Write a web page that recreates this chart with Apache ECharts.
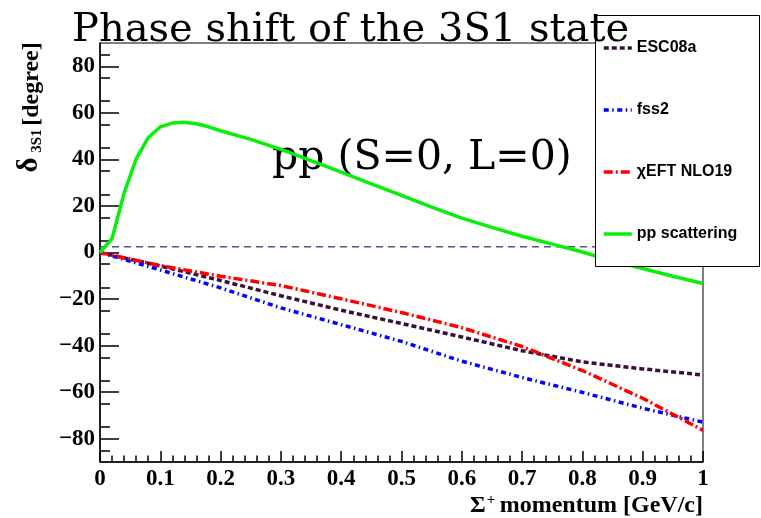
<!DOCTYPE html>
<html>
<head>
<meta charset="utf-8">
<script src="https://cdn.jsdelivr.net/npm/echarts@6/dist/echarts.min.js"></script>
<style>
  html, body { margin: 0; padding: 0; background: #fff; }
  #chart { width: 761px; height: 518px; }
</style>
</head>
<body>
<div id="chart"></div>
<script>
// Σ+ momentum grid shared by the three hyperon-nucleon models [GeV/c]
const modelMomentum = [0, 0.1, 0.2, 0.3, 0.4, 0.5, 0.6, 0.7, 0.8, 0.9, 1.0];
// 3S1 phase shifts [degree]
const esc08a = [0, -5.8, -12.0, -18.6, -24.8, -30.5, -36.3, -42.2, -47.0, -50.0, -52.6];
const fss2   = [0, -7.5, -15.2, -23.8, -31.0, -38.2, -46.7, -53.7, -60.1, -66.9, -72.9];
const nlo19  = [0, -5.6, -10.2, -14.2, -19.9, -25.8, -32.3, -40.4, -50.7, -62.6, -76.4];

// pp scattering reference curve
const ppMomentum = [0, 0.02, 0.04, 0.06, 0.08, 0.10, 0.12, 0.14, 0.16, 0.18, 0.20, 0.25, 0.30,
                    0.35, 0.40, 0.45, 0.50, 0.55, 0.60, 0.65, 0.70, 0.75, 0.80, 0.85, 0.90, 0.95, 1.00];
const ppPhase    = [0, 6.0, 25.5, 40.2, 49.3, 54.0, 55.6, 56.0, 55.3, 54.0, 52.3, 48.6, 44.3,
                    39.5, 34.5, 29.5, 24.5, 19.5, 14.8, 10.8, 7.0, 3.6, 0.2, -3.7, -6.9, -10.2, -13.3];

// horizontal guide line level [degree]
const guideLevel = 2.5;

// axis tick labels
const yLabelValues = [-80, -60, -40, -20, 0, 20, 40, 60, 80];

const seriesNames = ['ESC08a', 'fss2', '\u03C7EFT NLO19', 'pp scattering'];

const pairs = (xs, ys) => xs.map((x, i) => [x, ys[i]]);

const chart = echarts.init(document.getElementById('chart'), null, { renderer: 'canvas' });

// measure text so the x-axis title pieces sit side by side
const measureCtx = document.createElement('canvas').getContext('2d');
function textWidth(str, font) { measureCtx.font = font; return measureCtx.measureText(str).width; }

const serifBold = '"Liberation Serif", "Times New Roman", serif';
const xTitleFont = 'bold 24px ' + serifBold;
const xTitleMain = 'momentum [GeV/c]';
const xTitleRight = 703;
const xTitleMainLeft = xTitleRight - textWidth(xTitleMain, xTitleFont);
const plusLeft = xTitleMainLeft - 13;

const option = {
  animation: false,
  backgroundColor: '#fff',
  grid: {
    left: 100, right: 58, top: 43, bottom: 56,
    show: true, borderColor: '#000', borderWidth: 1, backgroundColor: 'transparent'
  },
  xAxis: {
    type: 'value', min: 0, max: 1, interval: 0.1,
    axisLine: { show: true, onZero: false, lineStyle: { color: '#000', width: 1.5 } },
    axisTick: { show: true, inside: true, length: 11, lineStyle: { color: '#000', width: 1.5 } },
    minorTick: { show: true, splitNumber: 5, length: 6.5, lineStyle: { color: '#000', width: 1.5 } },
    splitLine: { show: false },
    axisLabel: {
      margin: 6, color: '#000', fontFamily: serifBold, fontWeight: 'bold', fontSize: 23
    }
  },
  yAxis: {
    type: 'value', min: -90, max: 90, interval: 20,
    axisLine: { show: true, onZero: false, lineStyle: { color: '#000', width: 1.5 } },
    axisTick: { show: true, inside: true, length: 19, customValues: yLabelValues,
                lineStyle: { color: '#000', width: 1.5 } },
    minorTick: { show: true, splitNumber: 4, length: 10, lineStyle: { color: '#000', width: 1.5 } },
    splitLine: { show: false },
    axisLabel: {
      customValues: yLabelValues,
      margin: 5, color: '#000', fontFamily: serifBold, fontWeight: 'bold', fontSize: 23,
      formatter: v => (v < 0 ? '\u2212' + Math.abs(v) : String(v))
    }
  },
  legend: {
    data: seriesNames,
    orient: 'vertical',
    left: 602, top: 40,
    padding: 0,
    itemWidth: 28, itemHeight: 14, itemGap: 46,
    z: 8,
    itemStyle: { opacity: 0 },
    lineStyle: { width: 3.5 },
    textStyle: { fontFamily: '"Liberation Sans", Arial, sans-serif', fontWeight: 'bold',
                 fontSize: 16, color: '#000' }
  },
  series: [
    {
      name: 'ESC08a', type: 'line', symbol: 'none', z: 3,
      data: pairs(modelMomentum, esc08a),
      lineStyle: { color: '#3a0f3a', width: 3.5, type: [5, 3] },
      itemStyle: { color: '#3a0f3a' }
    },
    {
      name: 'fss2', type: 'line', symbol: 'none', z: 3,
      data: pairs(modelMomentum, fss2),
      lineStyle: { color: '#0000ff', width: 3.5, type: [5, 3.5, 1.5, 3.5] },
      itemStyle: { color: '#0000ff' }
    },
    {
      name: '\u03C7EFT NLO19', type: 'line', symbol: 'none', z: 3,
      data: pairs(modelMomentum, nlo19),
      lineStyle: { color: '#ff0000', width: 3.5, type: [9, 3, 2, 3] },
      itemStyle: { color: '#ff0000' }
    },
    {
      name: 'pp scattering', type: 'line', symbol: 'none', z: 3,
      data: pairs(ppMomentum, ppPhase),
      lineStyle: { color: '#0aef0a', width: 3.5, type: 'solid' },
      itemStyle: { color: '#0aef0a' }
    },
    {
      name: 'guide', type: 'line', symbol: 'none', z: 2, silent: true,
      data: [[0, guideLevel], [1, guideLevel]],
      lineStyle: { color: '#50508a', width: 1.5, type: [7, 5] }
    }
  ],
  graphic: [
    // legend frame
    {
      type: 'rect', z: 6, silent: true,
      shape: { x: 595.5, y: 15.5, width: 164, height: 251 },
      style: { fill: '#fff', stroke: '#000', lineWidth: 1 }
    },
    // chart title
    {
      type: 'text', z: 20, x: 72, y: 31, silent: true,
      style: { text: 'Phase shift of the 3S1 state', font: '40px "DejaVu Serif", serif',
               fill: '#000', align: 'left', verticalAlign: 'middle' }
    },
    // in-plot annotation
    {
      type: 'text', z: 1, x: 272, y: 158, silent: true,
      style: { text: 'pp (S=0, L=0)', font: '41px "DejaVu Serif", serif',
               fill: '#000', align: 'left', verticalAlign: 'middle' }
    },
    // y-axis title: δ_{3S1} [degree]
    {
      type: 'text', z: 5, x: 30, y: 165, rotation: Math.PI / 2, silent: true,
      style: { text: '\u03B4', font: 'bold 29px ' + serifBold, fill: '#000',
               align: 'center', verticalAlign: 'middle' }
    },
    {
      type: 'text', z: 5, x: 37.5, y: 141, rotation: Math.PI / 2, silent: true,
      style: { text: '3S1', font: 'bold 15px ' + serifBold, fill: '#000',
               align: 'center', verticalAlign: 'middle' }
    },
    {
      type: 'text', z: 5, x: 31.5, y: 84, rotation: Math.PI / 2, silent: true,
      style: { text: '[degree]', font: 'bold 24px ' + serifBold, fill: '#000',
               align: 'center', verticalAlign: 'middle' }
    },
    // x-axis title: Σ^+ momentum [GeV/c]
    {
      type: 'text', z: 5, x: xTitleRight, y: 506, silent: true,
      style: { text: xTitleMain, font: xTitleFont, fill: '#000',
               align: 'right', verticalAlign: 'middle' }
    },
    {
      type: 'text', z: 5, x: plusLeft, y: 500, silent: true,
      style: { text: '+', font: 'bold 15px ' + serifBold, fill: '#000',
               align: 'left', verticalAlign: 'middle' }
    },
    {
      type: 'text', z: 5, x: plusLeft - 1, y: 506, silent: true,
      style: { text: '\u03A3', font: xTitleFont, fill: '#000',
               align: 'right', verticalAlign: 'middle' }
    }
  ]
};

chart.setOption(option);
</script>
</body>
</html>
